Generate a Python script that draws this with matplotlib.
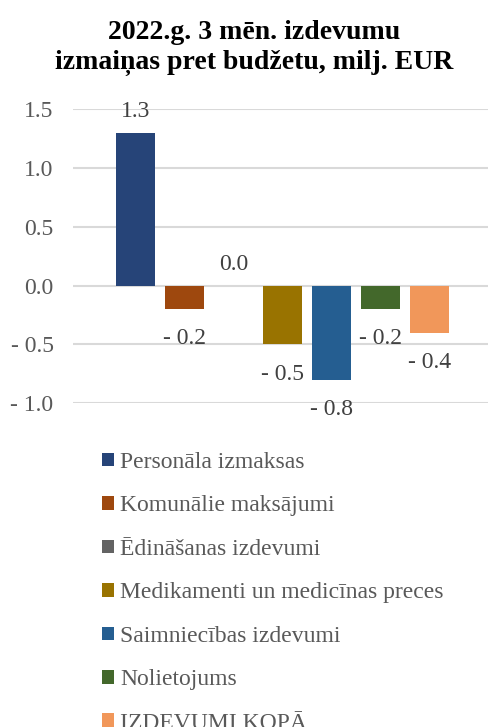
import matplotlib
matplotlib.use("Agg")
import matplotlib.pyplot as plt
from matplotlib.patches import Patch

categories = ["Personāla izmaksas", "Komunālie maksājumi", "Ēdināšanas izdevumi",
              "Medikamenti un medicīnas preces", "Saimniecības izdevumi",
              "Nolietojums", "IZDEVUMI KOPĀ"]
values = [1.3, -0.2, 0.0, -0.5, -0.8, -0.2, -0.4]
colors = ["#264478", "#9E480E", "#636363", "#997300", "#255E91", "#43682B", "#F1975A"]
yticks = [-1.0, -0.5, 0.0, 0.5, 1.0, 1.5]
title = "2022.g. 3 mēn. izdevumu\nizmaiņas pret budžetu, milj. EUR"

plt.rcParams['font.family'] = ['Liberation Serif', 'DejaVu Serif']

def fmt(v):
    s = f"{abs(v):.1f}"
    return ("- " + s) if v < 0 else s

W, H = 488, 727
fig = plt.figure(figsize=(W/100, H/100), dpi=100)
ax = fig.add_axes([73/W, 1 - 403.3/H, (488-73)/W, (403.3-109)/H])

xs = list(range(len(values)))
bars = ax.bar(xs, values, width=0.8, color=colors, zorder=3)
for x, v in zip(xs, values):
    off = 15.5 if v >= 0 else -21.5
    ax.annotate(fmt(v), (x, v), xytext=(0, off), textcoords="offset points",
                ha="center", va="center", fontsize=17, color="#404040",
                annotation_clip=False, zorder=4)

ax.set_xlim(-1.28, 7.2)
ax.set_ylim(-1.0, 1.5)
ax.set_yticks(yticks)
ax.set_yticklabels([fmt(t) for t in yticks])
ax.tick_params(axis="y", length=0, labelsize=17, labelcolor="#595959", pad=14)
ax.tick_params(axis="x", length=0, labelbottom=False)
ax.grid(axis="y", color="#d9d9d9", linewidth=1.5, zorder=0)
for s in ax.spines.values():
    s.set_visible(False)

fig.text(254/W, 1 - 48/H, title, ha="center", va="center", fontsize=20,
         fontweight="bold", color="black", linespacing=1.3)

handles = [Patch(facecolor=c, edgecolor="none") for c in colors]
fig.legend(handles, categories, loc="upper left", bbox_to_anchor=(102/W, 1 - 452/H),
           frameon=False, fontsize=17, handlelength=0.51, handleheight=0.51,
           handletextpad=0.25, labelspacing=0.95, labelcolor="#595959",
           borderaxespad=0, borderpad=0)

fig.savefig("out.png", dpi=100)
